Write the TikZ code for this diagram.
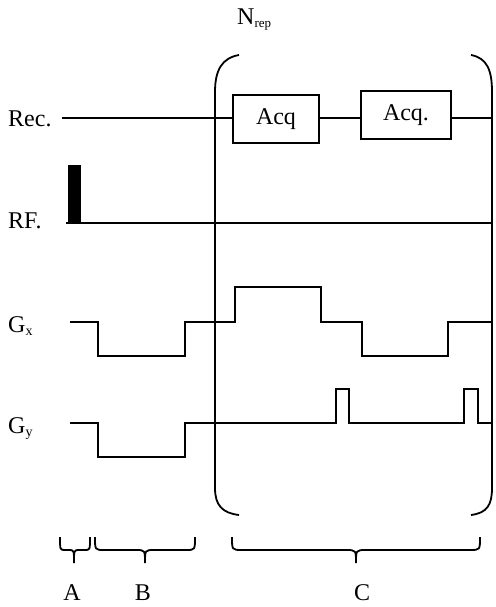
\documentclass[tikz,border=0pt]{standalone}
\usepackage{fontspec}
\setmainfont{Liberation Serif}
\begin{document}
\begin{tikzpicture}[x=1pt,y=-1pt,
  wave/.style={line width=1.8pt, line join=miter},
  lbl/.style={inner sep=0pt, anchor=base west, font=\fontsize{24}{28}\selectfont},
  seglbl/.style={inner sep=0pt, anchor=base, font=\fontsize{24}{28}\selectfont},
  acqbox/.style={draw, line width=1.8pt, inner sep=0pt, minimum height=48pt, font=\fontsize{24}{28}\selectfont}]
\useasboundingbox (0,0) rectangle (495,607);
% labels
\node[lbl] (nrep) at (237,25) {N\raisebox{-0.25ex}{\fontsize{13}{14}\selectfont rep}};
\node[lbl] (rec) at (8,127) {Rec.};
\node[lbl] (rf) at (8,228) {RF.};
\node[lbl] (gx) at (8,332) {G\raisebox{-0.3ex}{\fontsize{14}{14}\selectfont x}};
\node[lbl] (gy) at (8,433) {G\raisebox{-0.3ex}{\fontsize{14}{14}\selectfont y}};
% receiver line with acquisition boxes
\node[acqbox, minimum width=86pt] (acq1) at (276,119) {Acq};
\node[acqbox, minimum width=90pt] (acq2) at (406,115) {Acq.};
\coordinate (recstart) at (62,118);
\coordinate (recend) at (491,118);
\draw[wave] (recstart) -- (recstart -| acq1.west);
\draw[wave] (recstart -| acq1.east) -- (recstart -| acq2.west);
\draw[wave] (recstart -| acq2.east) -- (recend);
% RF
\fill (68,165) rectangle (81,223);
\draw[wave] (66,223) -- (492,223);
% Gx
\draw[wave] (70,322) -- (98,322) -- (98,356) -- (185,356) -- (185,322) -- (235,322)
  -- (235,287) -- (321,287) -- (321,322) -- (362,322) -- (362,356) -- (448,356)
  -- (448,322) -- (493,322);
% Gy
\draw[wave] (70,423) -- (98,423) -- (98,457) -- (185,457) -- (185,423) -- (336,423)
  -- (336,389) -- (349,389) -- (349,423) -- (464,423) -- (464,389) -- (478,389)
  -- (478,423) -- (493,423);
% repetition brackets
\draw[wave] (239,55) .. controls (222,58) and (215,70) .. (215,92) -- (215,488)
  .. controls (215,505) and (222,513) .. (239,515);
\draw[wave] (471,55) .. controls (487,58) and (492,70) .. (492,92) -- (492,488)
  .. controls (492,505) and (487,513) .. (471,515);
% segment braces
\foreach \xa/\xm/\xb/\r in {60/74/90/5, 95/145/195/9, 232/356/480/10}{
  \draw[wave] (\xa,537) .. controls (\xa,550) .. (\xa+\r,550) -- (\xm-\r,550)
    .. controls (\xm,550) .. (\xm,563) .. controls (\xm,550) .. (\xm+\r,550)
    -- (\xb-\r,550) .. controls (\xb,550) .. (\xb,537);
}
\node[seglbl] (la) at (72,600) {A};
\node[seglbl] (lb) at (143,600) {B};
\node[seglbl] (lc) at (362,600) {C};
\end{tikzpicture}
\end{document}
